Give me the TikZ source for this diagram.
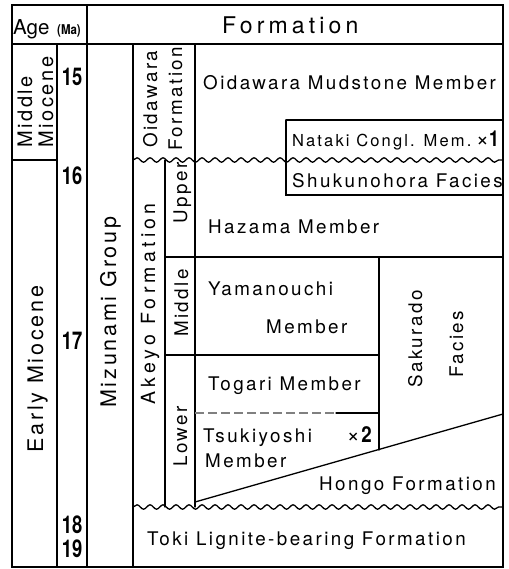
\documentclass[tikz,border=0pt]{standalone}
\usepackage{fontspec}
\setmainfont{TeX Gyre Heros}
\newfontfamily\lsfont[LetterSpace=13]{TeX Gyre Heros}
\newfontfamily\lswide[LetterSpace=18]{TeX Gyre Heros}
\usetikzlibrary{decorations.pathmorphing}
\newcommand\agenum[1]{\scalebox{0.75}[1]{\fontsize{24.5}{24.5}\selectfont\bfseries #1}}
\newcommand\timesmark{{\fontsize{22}{22}\selectfont ×}}
\tikzset{
  ln/.style={line width=1.3pt, line cap=round},
  wave/.style={line width=1.3pt, decorate, decoration={snake, segment length=13pt, amplitude=2.2pt}},
  txt/.style={inner sep=0pt, font=\lsfont\fontsize{18.8}{21}\selectfont},
  ttl/.style={inner sep=0pt, font=\lsfont\fontsize{21.5}{23}\selectfont},
  vtxt/.style={txt, rotate=90, anchor=base west},
  vttl/.style={ttl, rotate=90, anchor=base west},
  num/.style={inner sep=0pt, anchor=center}
}
\begin{document}
\begin{tikzpicture}[x=1pt,y=-1pt]
\useasboundingbox[fill=white] (0,0) rectangle (508,569);
% frame and grid
\draw[ln] (12,5) rectangle (503,567);
\draw[ln] (12,44) -- (503,44);
\draw[ln] (87,5) -- (87,567);
\draw[ln] (57,44) -- (57,567);
\draw[ln] (133,44) -- (133,567);
\draw[ln] (12,160) -- (57,160);
\draw[ln] (195,44) -- (195,507);
\draw[ln] (165,160) -- (165,507);
\draw[wave] (133,160) -- (503,160);
\draw[wave] (133,507) -- (503,507);
% Nataki / Shukunohora box
\draw[ln] (286,120) -- (503,120);
\draw[ln] (286,120) -- (286,195) -- (503,195);
% Akeyo subdivisions
\draw[ln] (165,257) -- (503,257);
\draw[ln] (379,257) -- (379,450);
\draw[ln] (165,355) -- (379,355);
\draw[line width=1.1pt, black!50, dash pattern=on 9pt off 4pt] (195,413) -- (335,413);
\draw[ln] (336,413) -- (379,413);
\draw[ln] (195,502) -- (503,414);
% header
\node[inner sep=0pt, anchor=base west, font=\fontsize{20.5}{22}\selectfont] (age) at (13,35) {Age};
\node[inner sep=0pt, anchor=base west] (ma) at (57,35) {\scalebox{0.85}[1]{\fontsize{13.5}{13.5}\selectfont\bfseries (Ma)}};
\node[inner sep=0pt, anchor=base west, font=\lswide\fontsize{23}{25}\selectfont] (form) at (222,34) {Formation};
% epochs
\node[vttl, font=\lsfont\fontsize{20}{22}\selectfont] (mid) at (32,148) {Middle};
\node[vttl, font=\lsfont\fontsize{20}{22}\selectfont] (mio) at (53,148) {Miocene};
\node[vttl] (early) at (43,453) {Early Miocene};
% ages
\node[num] (a15) at (72,77) {\agenum{15}};
\node[num] (a16) at (72,176) {\agenum{16}};
\node[num] (a17) at (72,341) {\agenum{17}};
\node[num] (a18) at (72,525) {\agenum{18}};
\node[num] (a19) at (72,549) {\agenum{19}};
% group / formations
\node[vttl] (miz) at (116,408) {Mizunami Group};
\node[vtxt] (oidf1) at (157,148) {Oidawara};
\node[vtxt] (oidf2) at (182,151) {Formation};
\node[vttl, font=\fontsize{19.5}{21}\selectfont\addfontfeature{LetterSpace=22}] (akeyo) at (155,405) {Akeyo Formation};
\node[vtxt] (upper) at (187,224) {Upper};
\node[vtxt] (middle) at (188,337) {Middle};
\node[vtxt] (lower) at (187,467) {Lower};
% members
\node[txt, anchor=base west] (oidm) at (203,90) {Oidawara Mudstone Member};
\node[txt, anchor=base west, font=\lsfont\fontsize{16.5}{19}\selectfont] (nat) at (292,147) {Nataki Congl. Mem.};
\node[inner sep=0pt, anchor=base east] (natx) at (499,147) {\timesmark\scalebox{0.8}[1]{\fontsize{22}{22}\selectfont\bfseries 1}};
\node[txt, anchor=base west] (shu) at (292,188) {Shukunohora Facies};
\node[txt, anchor=base west] (haz) at (208,233) {Hazama Member};
\node[txt, anchor=base west] (yam) at (208,295) {Yamanouchi};
\node[txt, anchor=base west] (yamm) at (266,333) {Member};
\node[txt, anchor=base west] (tog) at (208,390) {Togari Member};
\node[txt, anchor=base west] (tsu) at (203,442) {Tsukiyoshi};
\node[inner sep=0pt, anchor=base east] (tsux) at (372,442) {\timesmark\,\scalebox{0.85}[1]{\fontsize{22}{22}\selectfont\bfseries 2}};
\node[txt, anchor=base west] (tsum) at (205,467) {Member};
\node[vtxt] (sak) at (422,388) {Sakurado};
\node[vtxt] (fac) at (463,378) {Facies};
\node[txt, anchor=base west] (hon) at (319,490) {Hongo Formation};
\node[txt, anchor=base west] (toki) at (147,545) {Toki Lignite-bearing Formation};
\end{tikzpicture}
\end{document}
